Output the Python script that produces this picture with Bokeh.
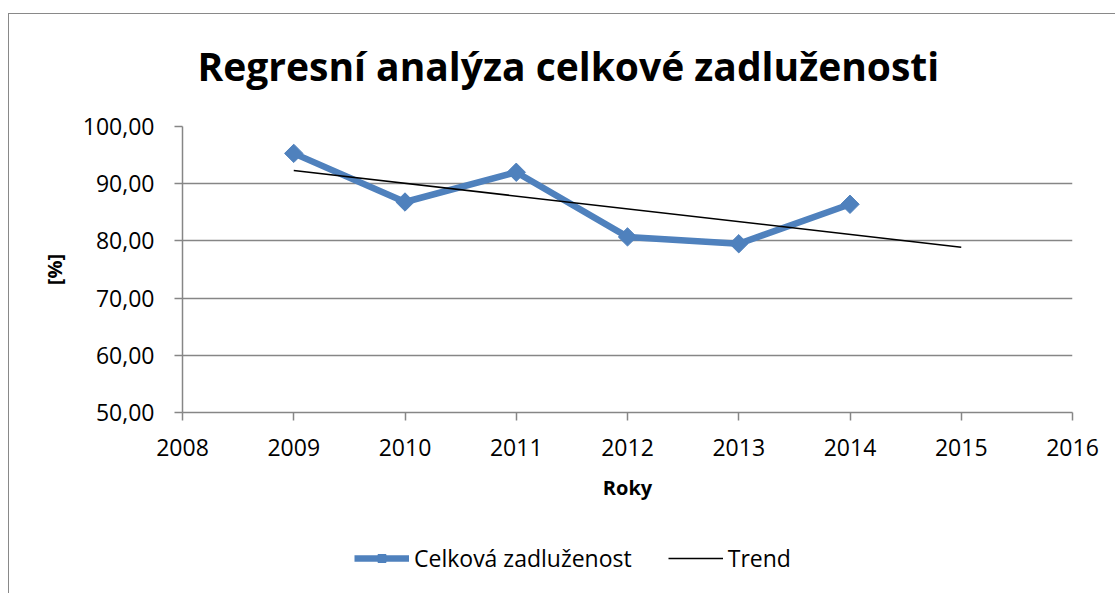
from bokeh.plotting import figure
from bokeh.layouts import column
from bokeh.models import (FixedTicker, CustomJSTickFormatter, Legend, LegendItem)
from bokeh.embed import file_html
from bokeh.resources import INLINE
import math

# ---- data ----
years = [2009, 2010, 2011, 2012, 2013, 2014]
zadluzenost = [95.3, 86.8, 92.0, 80.7, 79.5, 86.4]
trend_years = [2009, 2015]
trend_values = [92.3, 78.9]
x_ticks = [2008, 2009, 2010, 2011, 2012, 2013, 2014, 2015, 2016]
y_ticks = [50, 60, 70, 80, 90, 100]

title_text = "Regresní analýza celkové zadluženosti"
x_title = "Roky"
y_title = "[%]"
series_name = "Celková zadluženost"
trend_name = "Trend"

FONT = "Open Sans"
GRAY = "#868686"
BLUE = "#4F81BD"
BORDER = "#898989"

W = 1115
H_MAIN = 520
H_LEG = 73

p = figure(width=W, height=H_MAIN, output_backend="svg", toolbar_location=None,
           x_range=(2008, 2016), y_range=(50, 100),
           min_border_left=182, min_border_right=43,
           min_border_top=126, min_border_bottom=108)

p.outline_line_color = None
p.background_fill_color = "white"
p.border_fill_color = "white"

# outer chart border (left and top edges visible in the reference)
p.stylesheets = [":host::after { content: ''; position: absolute; left: 8px; top: 13px; "
                 "right: 0; bottom: 0; border-left: 1.5px solid " + BORDER + "; "
                 "border-top: 1.5px solid " + BORDER + "; pointer-events: none; }"]

# title
p.title.text = title_text
p.title.text_font = FONT
p.title.text_font_style = "bold"
p.title.text_font_size = "39px"
p.title.text_color = "black"
p.title.align = "left"
p.title.offset = 15
p.title.standoff = 70

# axes
for ax in (p.xaxis[0], p.yaxis[0]):
    ax.axis_line_color = GRAY
    ax.axis_line_width = 1.5
    ax.major_tick_line_color = GRAY
    ax.major_tick_line_width = 1.5
    ax.major_tick_out = 8
    ax.major_tick_in = 0
    ax.minor_tick_line_color = None
    ax.major_label_text_font = FONT
    ax.major_label_text_font_size = "23px"
    ax.major_label_text_color = "black"
    ax.axis_label_text_font = FONT
    ax.axis_label_text_font_style = "bold"
    ax.axis_label_text_font_size = "20px"
    ax.axis_label_text_color = "black"

p.xaxis.ticker = FixedTicker(ticks=x_ticks)
p.yaxis.ticker = FixedTicker(ticks=y_ticks)
p.yaxis.formatter = CustomJSTickFormatter(code="return tick.toFixed(2).replace('.', ',');")
p.xaxis.formatter = CustomJSTickFormatter(code="return tick.toFixed(0);")
p.xaxis.axis_label = x_title
p.yaxis.axis_label = y_title
p.xaxis.major_label_standoff = 18
p.yaxis.major_label_standoff = 20
p.xaxis.axis_label_standoff = 15
p.yaxis.axis_label_standoff = 12

p.xgrid.grid_line_color = None
p.ygrid.grid_line_color = GRAY
p.ygrid.grid_line_width = 1.5
p.ygrid.ticker = FixedTicker(ticks=y_ticks)

# series
l1 = p.line(years, zadluzenost, line_color=BLUE, line_width=6.5, line_join="round")
s1 = p.scatter(years, zadluzenost, marker="square", angle=math.pi / 4, size=13,
               fill_color=BLUE, line_color=BLUE)
l2 = p.line(trend_years, trend_values, line_color="black", line_width=1.5)

# legend strip below the chart; its renderers carry the same data and styles,
# but its ranges keep them out of view so only the legend shows
pl = figure(width=W, height=H_LEG, output_backend="svg", toolbar_location=None,
            x_range=(0, 1), y_range=(0, 1),
            x_axis_type=None, y_axis_type=None,
            min_border_left=0, min_border_right=0, min_border_top=0, min_border_bottom=0)
pl.outline_line_color = None
pl.xgrid.visible = False
pl.ygrid.visible = False
pl.background_fill_color = "white"
pl.border_fill_color = "white"
pl.stylesheets = [":host::after { content: ''; position: absolute; left: 8px; top: 0; "
                  "bottom: 0; border-left: 1.5px solid " + BORDER + "; pointer-events: none; }"]
g1 = pl.line(years, zadluzenost, line_color=BLUE, line_width=6.5)
g2 = pl.scatter(years, zadluzenost, marker="square", angle=math.pi / 4, size=13,
                fill_color=BLUE, line_color=BLUE)
g3 = pl.line(trend_years, trend_values, line_color="black", line_width=1.5)

legend = Legend(items=[LegendItem(label=series_name, renderers=[g1, g2]),
                       LegendItem(label=trend_name, renderers=[g3])],
                orientation="horizontal", location=(172, 19),
                label_text_font=FONT, label_text_font_size="23px",
                label_text_color="black",
                glyph_width=55, glyph_height=20, label_standoff=5, spacing=36,
                border_line_color=None, background_fill_alpha=0, margin=0, padding=5)
pl.add_layout(legend, "center")

layout = column(p, pl, spacing=0)
open("out.html", "w").write(file_html(layout, INLINE))
